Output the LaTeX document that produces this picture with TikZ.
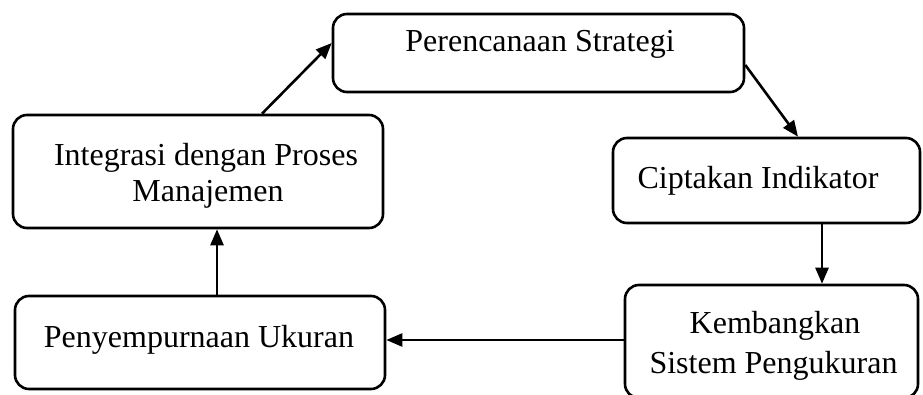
\documentclass[tikz,border=0pt]{standalone}
\usepackage{fontspec}
\setmainfont{Liberation Serif}
\usetikzlibrary{arrows.meta}
\begin{document}
\begin{tikzpicture}[x=1pt,y=-1pt,
  box/.style={draw=black, line width=2.6pt, rounded corners=14pt, minimum width=#1, inner sep=0pt},
  lbl/.style={font=\fontsize{32}{38}\selectfont, anchor=base, align=center, inner sep=0pt},
  arr/.style={line width=2.6pt, -{Triangle[length=16pt,width=13pt]}}]
\useasboundingbox (0,0) rectangle (923,395);
\node[box=411pt, minimum height=78pt] (P) at (538.5,53) {};
\node[box=370pt, minimum height=113pt] (I) at (198,171.5) {};
\node[box=307pt, minimum height=85pt] (C) at (766.5,180.5) {};
\node[box=293pt, minimum height=113pt] (K) at (771.5,341.5) {};
\node[box=370pt, minimum height=93pt] (U) at (200,342.5) {};
\node[lbl] (tP) at (540,52) {Perencanaan Strategi};
\node[lbl] (tI1) at (206,166) {Integrasi dengan Proses};
\node[lbl] (tI2) at (208,202) {Manajemen};
\node[lbl] (tC) at (758,189) {Ciptakan Indikator};
\node[lbl] (tU) at (199,347) {Penyempurnaan Ukuran};
\node[lbl] (tK1) at (775,333) {Kembangkan};
\node[lbl] (tK2) at (773.5,373) {Sistem Pengukuran};
\draw[arr] ([xshift=64pt]I.north) -- ([yshift=10pt]P.west);
\draw[arr] ([yshift=-12pt]P.east) -- ([xshift=31.5pt]C.north);
\draw[arr] ([xshift=55.5pt]C.south) -- ([xshift=55.5pt]C.south |- K.north);
\draw[arr] ([yshift=1.5pt]K.west) -- ([yshift=1.5pt]K.west -| U.east);
\draw[arr] ([xshift=17pt]U.north) -- ([xshift=17pt]U.north |- I.south);
\end{tikzpicture}
\end{document}
